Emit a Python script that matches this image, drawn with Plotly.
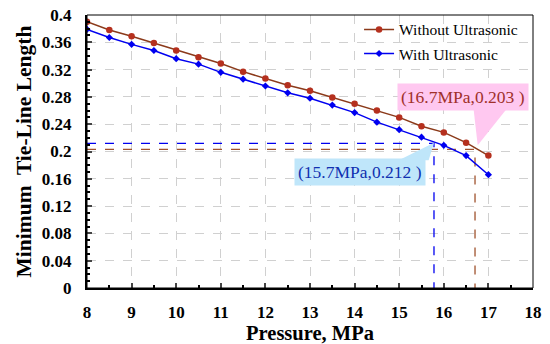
import plotly.graph_objects as go

pressure = [8, 8.5, 9, 9.5, 10, 10.5, 11, 11.5, 12, 12.5, 13, 13.5, 14, 14.5, 15, 15.5, 16, 16.5, 17]
without_us = [0.390, 0.378, 0.369, 0.359, 0.348, 0.338, 0.329, 0.317, 0.307, 0.297, 0.289, 0.279,
              0.270, 0.260, 0.250, 0.237, 0.228, 0.213, 0.194]
with_us = [0.379, 0.367, 0.357, 0.348, 0.336, 0.328, 0.316, 0.306, 0.296, 0.286, 0.278, 0.268,
           0.257, 0.243, 0.232, 0.221, 0.209, 0.194, 0.166]

x_ticks = [8, 9, 10, 11, 12, 13, 14, 15, 16, 17, 18]
y_ticks = [0, 0.04, 0.08, 0.12, 0.16, 0.2, 0.24, 0.28, 0.32, 0.36, 0.4]
y_tick_labels = ["0", "0.04", "0.08", "0.12", "0.16", "0.2", "0.24", "0.28", "0.32", "0.36", "0.4"]

# critical points (drawn position) and their labels
crit_without = (16.7, 0.203)
crit_with = (15.78, 0.212)
label_without = "(16.7MPa,0.203 )"
label_with = "(15.7MPa,0.212 )"

BROWN_LINE = "#8B3A1A"
BROWN_MK = "#B5301E"
BLUE = "#0000F0"
FONT = "Liberation Serif"

fig = go.Figure()

# dashed guide lines
for (cx, cy), col in [(crit_with, BLUE), (crit_without, "#A0522D")]:
    fig.add_trace(go.Scatter(x=[8, cx, cx], y=[cy, cy, 0], mode="lines",
                             line=dict(color=col, width=1.3, dash="dash"),
                             showlegend=False, hoverinfo="skip"))

fig.add_trace(go.Scatter(x=pressure, y=without_us, mode="lines+markers", name="Without Ultrasonic",
                         legendgroup="a",
                         line=dict(color=BROWN_LINE, width=1.5),
                         marker=dict(color=BROWN_MK, size=6.5, symbol="circle")))
fig.add_trace(go.Scatter(x=pressure, y=with_us, mode="lines+markers", name="With Ultrasonic",
                         legendgroup="b",
                         line=dict(color=BLUE, width=1.5),
                         marker=dict(color=BLUE, size=5.5, symbol="diamond")))

# callout boxes (text centre) and pointers
pink_box = (16.43, 0.2797)
blue_box = (14.11, 0.170)
fig.add_shape(type="path",
              path=f"M {pink_box[0]+0.24},{pink_box[1]-0.019} L {crit_without[0]+0.06},{crit_without[1]+0.006} "
                   f"L {pink_box[0]+0.96},{pink_box[1]-0.019} Z",
              fillcolor="#FFC8F0", line=dict(width=0), layer="above")
fig.add_shape(type="path",
              path=f"M {blue_box[0]+0.88},{blue_box[1]+0.017} L {crit_with[0]},{crit_with[1]+0.001} "
                   f"L {blue_box[0]+1.55},{blue_box[1]+0.017} Z",
              fillcolor="#BFE6FA", line=dict(width=0), layer="above")

fig.add_annotation(x=pink_box[0], y=pink_box[1], text=label_without, showarrow=False,
                   font=dict(family=FONT, size=17.5, color="#A0302A"),
                   bgcolor="#FFC8F0", borderpad=3)
fig.add_annotation(x=blue_box[0], y=blue_box[1], text=label_with, showarrow=False,
                   font=dict(family=FONT, size=17.5, color="#1030B0"),
                   bgcolor="#BFE6FA", borderpad=3)

# thin top/right frame
fig.add_shape(type="rect", xref="paper", yref="paper", x0=0, y0=0, x1=1, y1=1,
              line=dict(color="black", width=1), layer="above")

fig.update_layout(
    width=550, height=344,
    margin=dict(l=87, r=17, t=15, b=56),
    plot_bgcolor="white", paper_bgcolor="white",
    font=dict(family=FONT, color="black", size=15),
    legend=dict(x=0.61, y=1.008, xanchor="left", yanchor="top", bgcolor="rgba(0,0,0,0)",
                font=dict(family=FONT, size=15.5, color="black"), tracegroupgap=1, itemwidth=30),
    xaxis=dict(range=[8, 18], tickmode="array", tickvals=x_ticks,
               ticktext=[f"<b>{v}</b>" for v in x_ticks],
               ticks="inside", ticklen=5, tickwidth=1.5, automargin=False, ticklabelstandoff=8,
               showline=True, linewidth=2, linecolor="black",
               showgrid=True, gridcolor="#D0D0D0", griddash="dash", gridwidth=1,
               minor=dict(dtick=0.5, ticks="inside", ticklen=3, tickcolor="black", showgrid=False),
               tickfont=dict(family=FONT, size=17, color="black"),
               title=dict(text="<b>Pressure, MPa</b>", font=dict(family=FONT, size=20.5), standoff=2),
               zeroline=False),
    yaxis=dict(range=[0, 0.4], tickmode="array", tickvals=y_ticks,
               ticktext=[f"<b>{t}</b>" for t in y_tick_labels],
               ticks="inside", ticklen=5, tickwidth=1.5, automargin=False, ticklabelstandoff=10,
               showline=True, linewidth=2, linecolor="black",
               showgrid=True, gridcolor="#D0D0D0", griddash="dash", gridwidth=1,
               minor=dict(dtick=0.01, tick0=0, ticks="inside", ticklen=3, tickcolor="black", showgrid=False),
               tickfont=dict(family=FONT, size=17, color="black"),
               title=dict(text="<b>Minimum  Tie-Line Length</b>", font=dict(family=FONT, size=21.5), standoff=4),
               zeroline=False),
)

fig.write_html("out.html", config={"displayModeBar": False},
               post_script="document.body.style.margin='0';document.body.style.overflow='hidden';")
